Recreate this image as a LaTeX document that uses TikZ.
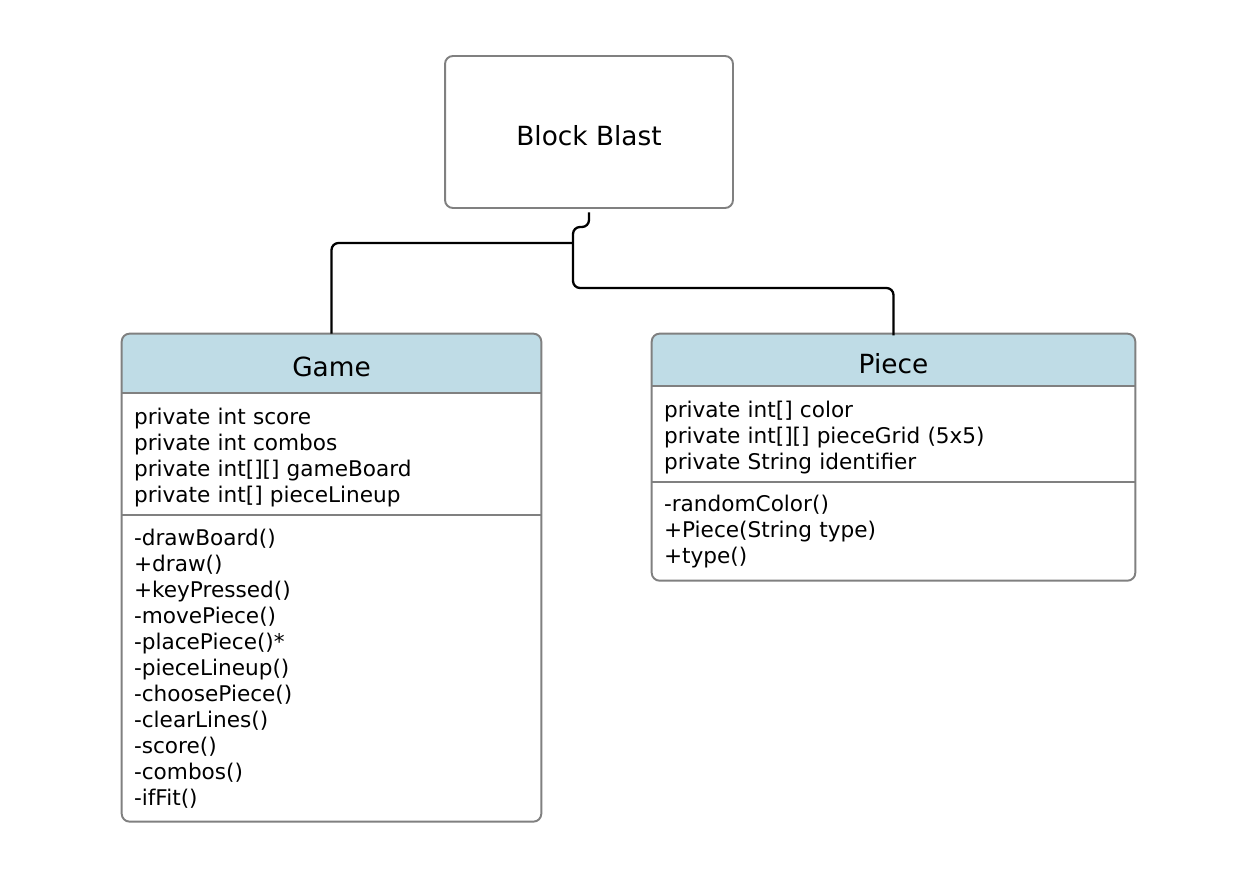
\documentclass[tikz,border=0pt]{standalone}
\usepackage{fontspec}
\setmainfont{DejaVu Sans}
\usetikzlibrary{positioning}
\definecolor{framegray}{HTML}{808080}
\definecolor{headblue}{HTML}{BFDCE6}
\pgfdeclarelayer{background}
\pgfsetlayers{background,main}

\begin{document}
\begin{tikzpicture}[x=0.02cm, y=0.02cm]
\tikzstyle{every node}+=[inner sep=0pt]
\tikzstyle{frame}=[draw=framegray, line width=1.1pt, rounded corners=4.5pt]
\tikzstyle{divider}=[draw=framegray, line width=1.1pt]
\tikzstyle{title}=[font=\fontsize{15}{18}\selectfont, text height=14.8pt, text depth=0pt]
\tikzstyle{members}=[font=\fontsize{12.3}{14.8}\selectfont, align=left, inner xsep=0.24cm]
\tikzstyle{link}=[draw=black, line width=1.3pt, rounded corners=4pt]
\useasboundingbox (0,0) rectangle (1244,-872);

% top box
\node [title, frame, minimum width=5.76cm, minimum height=3.04cm] (bb) at (589,-132) {Block Blast};

% Game class
\node [title, minimum width=8.38cm, minimum height=1.18cm] (gameHead) at (331.5,-363.5) {Game};
\node [members, text width=7.9cm, minimum height=2.3cm, below=3.4pt of gameHead] (gameAttr)
  {private int score\\private int combos\\private int[][] gameBoard\\private int[] pieceLineup};
\node [members, text width=7.9cm, minimum height=6.12cm, below=0pt of gameAttr] (gameOps)
  {-drawBoard()\\+draw()\\+keyPressed()\\-movePiece()\\-placePiece()*\\-pieceLineup()\\-choosePiece()\\-clearLines()\\-score()\\-combos()\\-ifFit()};

% Piece class
\node [title, minimum width=9.66cm, minimum height=1.04cm] (pieceHead) at (893.5,-360) {Piece};
\node [members, text width=9.18cm, minimum height=1.78cm, below=3.4pt of pieceHead] (pieceAttr)
  {private int[] color\\private int[][] pieceGrid (5x5)\\private String identifier};
\node [members, text width=9.18cm, minimum height=1.96cm, below=0pt of pieceAttr] (pieceOps)
  {-randomColor()\\+Piece(String type)\\+type()};

% header fills
\begin{pgfonlayer}{background}
\begin{scope}
\clip [rounded corners=4.5pt] (gameHead.north west) rectangle (gameOps.south east);
\fill [headblue] (gameHead.north west) rectangle (gameHead.south east);
\end{scope}
\begin{scope}
\clip [rounded corners=4.5pt] (pieceHead.north west) rectangle (pieceOps.south east);
\fill [headblue] (pieceHead.north west) rectangle (pieceHead.south east);
\end{scope}
\end{pgfonlayer}

\draw [frame] (gameHead.north west) rectangle (gameOps.south east);
\draw [divider] (gameHead.south west) -- (gameHead.south east);
\draw [divider] (gameOps.north west) -- (gameOps.north east);
\draw [frame] (pieceHead.north west) rectangle (pieceOps.south east);
\draw [divider] (pieceHead.south west) -- (pieceHead.south east);
\draw [divider] (pieceOps.north west) -- (pieceOps.north east);

% connectors
\coordinate (jog) at (573,-227);
\coordinate (route) at (0,-288);
\coordinate (split) at (573,-243);
\draw [link] ([yshift=-2pt]bb.south) |- (jog) -- (jog |- route) -| ([yshift=-1pt]pieceHead.north);
\draw [link] (split) -| (gameHead.north);
\end{tikzpicture}
\end{document}
